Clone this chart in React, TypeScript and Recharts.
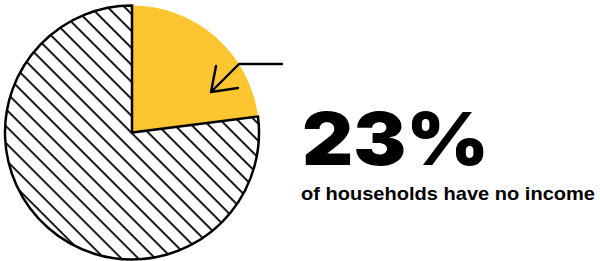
import React from "react";
import { PieChart, Pie, Cell } from "recharts";

const sliceNames = ["No income", "Has income"];
const sliceValues = [23, 77];
const headline = "23%";
const caption = "of households have no income";

const data = sliceNames.map((name, i) => ({ name, value: sliceValues[i] }));

// arrow + headline drawn on top of the pie
const Overlay = () => (
  <svg
    width={600}
    height={261}
    style={{ position: "absolute", left: 0, top: 0, pointerEvents: "none" }}
  >
    <path
      d="M282 64 L239 64 L211 92 M216 66 L211 92 L238 88"
      fill="none"
      stroke="#000"
      strokeWidth={2.4}
      strokeLinecap="round"
      strokeLinejoin="round"
    />
    <text
      x={302}
      y={165}
      fontFamily="Inter, 'DejaVu Sans', sans-serif"
      fontWeight={900}
      fontSize={73}
      textLength={187}
      lengthAdjust="spacingAndGlyphs"
      fill="#000"
    >
      {headline}
    </text>
    <text
      x={301}
      y={200}
      fontFamily="'Liberation Sans', Arial, sans-serif"
      fontWeight={700}
      fontSize={19}
      textLength={294}
      lengthAdjust="spacingAndGlyphs"
      fill="#000"
    >
      {caption}
    </text>
  </svg>
);

export default function App() {
  return (
    <div style={{ position: "absolute", left: 0, top: 0, width: 600, height: 261, background: "#fff" }}>
      <PieChart width={600} height={261} margin={{ top: 0, right: 0, bottom: 0, left: 0 }}>
        <defs>
          <pattern id="hatch" patternUnits="userSpaceOnUse" width={12} height={12} patternTransform="rotate(45)">
            <rect width={12} height={12} fill="#fff" />
            <line x1={0} y1={0} x2={12} y2={0} stroke="#000" strokeWidth={3.6} />
          </pattern>
        </defs>
        <Pie
          data={data}
          dataKey="value"
          nameKey="name"
          cx={132}
          cy={132.5}
          outerRadius={127}
          startAngle={90}
          endAngle={-270}
          isAnimationActive={false}
          label={false}
          labelLine={false}
        >
          <Cell fill="#FDC52F" stroke="none" />
          <Cell fill="url(#hatch)" stroke="#000" strokeWidth={2.5} />
        </Pie>
      </PieChart>
      <Overlay />
    </div>
  );
}
